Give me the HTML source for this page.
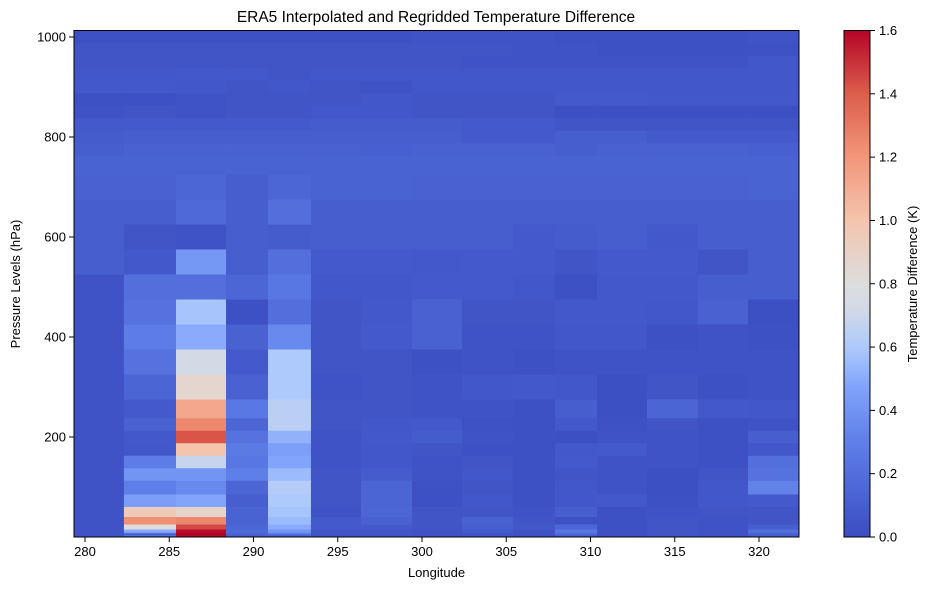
<!DOCTYPE html>
<html><head><meta charset="utf-8"><style>
body{margin:0;background:#fff;}
svg{display:block;font-family:"Liberation Sans","DejaVu Sans",sans-serif;}
</style></head><body>
<svg id="chart" width="930" height="590" viewBox="0 0 930 590" xmlns="http://www.w3.org/2000/svg">
<rect width="930" height="590" fill="#fff"/>
<text x="436" y="22" font-size="15.5" text-anchor="middle">ERA5 Interpolated and Regridded Temperature Difference</text>
<g id="cells"></g>
<g id="xaxis"></g>
<g id="yaxis"></g>
<rect x="74" y="30.5" width="725" height="506.5" fill="none" stroke="#000" stroke-width="1"/>
<text x="436.5" y="577" font-size="13" text-anchor="middle">Longitude</text>
<text transform="translate(20,284) rotate(-90)" font-size="13" text-anchor="middle">Pressure Levels (hPa)</text>
<defs><linearGradient id="cbgrad" x1="0" y1="1" x2="0" y2="0"></linearGradient></defs>
<rect x="844" y="30.5" width="26" height="506.5" fill="url(#cbgrad)" stroke="#000" stroke-width="1"/>
<g id="cbaxis"></g>
<text transform="translate(917,284) rotate(-90)" font-size="13" text-anchor="middle">Temperature Difference (K)</text>
</svg>
<script>
const lonEdges=[279.35,282.31,285.40,288.37,290.86,293.41,296.38,299.41,302.37,305.40,307.89,310.39,313.35,316.38,319.35,322.37];
const levels=[1000,975,950,925,900,875,850,825,800,775,750,700,650,600,550,500,450,400,350,300,250,225,200,175,150,125,100,70,50,30,20,10,7,5,3,2,1];
const values=[
[.03,.03,.03,.03,.03,.03,.03,.04,.04,.04,.03,.03,.03,.03,.04],
[.05,.05,.05,.05,.05,.05,.05,.05,.05,.04,.04,.03,.03,.03,.03],
[.05,.05,.05,.05,.05,.05,.05,.05,.04,.04,.04,.04,.04,.04,.06],
[.06,.06,.07,.07,.05,.06,.06,.06,.06,.06,.06,.06,.06,.06,.06],
[.07,.07,.06,.05,.06,.05,.04,.06,.06,.06,.06,.06,.06,.06,.06],
[.03,.03,.04,.05,.05,.05,.06,.05,.05,.05,.08,.08,.07,.07,.07],
[.04,.05,.04,.05,.05,.06,.06,.05,.05,.05,.02,.02,.02,.02,.02],
[.08,.08,.08,.08,.08,.09,.09,.09,.08,.08,.05,.05,.05,.05,.05],
[.09,.1,.1,.1,.1,.1,.1,.1,.08,.08,.1,.1,.08,.08,.08],
[.1,.12,.12,.12,.12,.12,.11,.12,.12,.12,.1,.12,.12,.12,.11],
[.13,.13,.13,.13,.13,.13,.13,.13,.13,.13,.13,.13,.13,.13,.13],
[.12,.12,.15,.1,.15,.13,.13,.12,.12,.12,.12,.12,.12,.12,.13],
[.1,.1,.17,.1,.2,.1,.1,.1,.1,.1,.1,.1,.1,.1,.1],
[.1,.05,.04,.1,.09,.1,.1,.1,.1,.08,.09,.1,.07,.1,.1],
[.1,.07,.42,.1,.2,.08,.08,.07,.08,.08,.05,.08,.08,.05,.1],
[.04,.2,.2,.15,.25,.06,.06,.08,.08,.06,.03,.07,.07,.1,.1],
[.04,.22,.58,.03,.2,.05,.07,.12,.05,.05,.07,.07,.06,.12,.02],
[.04,.28,.5,.12,.35,.05,.08,.12,.04,.04,.06,.06,.03,.04,.03],
[.04,.22,.72,.08,.6,.05,.05,.03,.04,.03,.04,.04,.04,.04,.04],
[.04,.14,.86,.12,.6,.04,.05,.04,.06,.07,.06,.02,.05,.03,.04],
[.04,.08,1.12,.26,.64,.05,.05,.04,.04,.03,.1,.02,.14,.07,.06],
[.04,.12,1.25,.15,.64,.05,.06,.07,.03,.03,.07,.03,.05,.03,.04],
[.04,.07,1.42,.22,.52,.04,.07,.09,.04,.03,.02,.04,.04,.03,.1],
[.04,.06,1.0,.27,.45,.04,.06,.05,.03,.03,.07,.08,.04,.03,.06],
[.04,.28,.68,.25,.48,.04,.06,.04,.05,.03,.08,.04,.04,.03,.2],
[.04,.4,.4,.3,.55,.05,.09,.04,.06,.03,.05,.04,.02,.05,.22],
[.04,.3,.35,.15,.62,.05,.14,.03,.05,.03,.06,.04,.02,.06,.32],
[.04,.45,.48,.1,.6,.05,.14,.03,.06,.03,.06,.07,.03,.06,.08],
[.04,.95,.88,.13,.58,.04,.15,.05,.05,.04,.1,.03,.04,.05,.05],
[.04,1.22,1.25,.13,.55,.08,.12,.05,.12,.05,.03,.03,.05,.04,.05],
[.04,.8,1.45,.15,.5,.08,.08,.05,.1,.07,.15,.03,.05,.04,.1],
[.04,.5,1.58,.17,.4,.05,.05,.04,.08,.04,.25,.03,.05,.04,.2],
[.04,.2,1.6,.15,.3,.05,.05,.04,.05,.04,.2,.03,.05,.04,.15],
[.04,.1,1.6,.12,.2,.05,.05,.04,.05,.04,.15,.03,.05,.04,.1],
[.04,.25,1.6,.12,.15,.05,.05,.04,.05,.04,.1,.03,.05,.04,.1],
[.04,.1,1.6,.1,.1,.05,.05,.04,.05,.04,.1,.03,.05,.04,.1],
[.04,.1,1.6,.1,.1,.05,.05,.04,.05,.04,.1,.03,.05,.04,.1]
];
const xTicks=[280,285,290,295,300,305,310,315,320];
const yTicks=[200,400,600,800,1000];
const cbTicks=[0,0.2,0.4,0.6,0.8,1.0,1.2,1.4,1.6];
const vmin=0,vmax=1.6;
const NS='http://www.w3.org/2000/svg';
function X(lon){return 85+(lon-280)*16.85;}
function Y(p){return 537-0.5*p;}
function CY(v){return 537-(v-vmin)/(vmax-vmin)*506.5;}
const anchors=[[0,59,76,192],[0.1,77,104,215],[0.2,98,130,234],[0.3,130,165,251],[0.37,172,200,252],[0.45,210,218,230],[0.5,221,221,221],[0.625,244,196,173],[0.75,242,150,122],[0.875,220,94,76],[1,180,4,38]];
function cmap(v){let t=Math.max(0,Math.min(1,(v-vmin)/(vmax-vmin)));
for(let i=1;i<anchors.length;i++){if(t<=anchors[i][0]){const a=anchors[i-1],b=anchors[i];const f=(t-a[0])/(b[0]-a[0]);
return 'rgb('+[1,2,3].map(k=>Math.round(a[k]+(b[k]-a[k])*f)).join(',')+')';}}return 'rgb(180,4,38)';}
function mk(tag,attrs,parent){const e=document.createElementNS(NS,tag);for(const k in attrs)e.setAttribute(k,attrs[k]);parent.appendChild(e);return e;}
const cells=document.getElementById('cells');
for(let r=0;r<levels.length;r++){
  const p=levels[r];
  const up=r===0?p+(p-levels[1])/2:(p+levels[r-1])/2;
  const lo=r===levels.length-1?Math.max(0,p-(levels[r-1]-p)/2):(p+levels[r+1])/2;
  for(let c=0;c<lonEdges.length-1;c++){
    const x0=X(lonEdges[c]),x1=X(lonEdges[c+1]);
    const y0=Math.max(30.5,Y(up)),y1=Y(lo);
    const el=mk('rect',{x:x0,y:y0,width:x1-x0+0.4,height:Math.max(0,y1-y0)+0.4,fill:cmap(values[r][c])},cells);
    
    
  }
}
const xa=document.getElementById('xaxis');
xTicks.forEach(t=>{const x=X(t);
  const l=mk('line',{x1:x,x2:x,y1:537,y2:542,stroke:'#000'},xa);
  
  
  const tx=mk('text',{x:x,y:556,'font-size':13,'text-anchor':'middle'},xa);tx.textContent=t;
  
  
});
const ya=document.getElementById('yaxis');
yTicks.forEach(t=>{const y=Y(t);
  const l=mk('line',{x1:69,x2:74,y1:y,y2:y,stroke:'#000'},ya);
  
  
  const tx=mk('text',{x:66,y:y+4.5,'font-size':13,'text-anchor':'end'},ya);tx.textContent=t;
  
  
});
const grad=document.getElementById('cbgrad');
for(let i=0;i<=40;i++){const v=vmin+(vmax-vmin)*i/40;mk('stop',{offset:(i/40),'stop-color':cmap(v)},grad);}
const cba=document.getElementById('cbaxis');
cbTicks.forEach(t=>{const y=CY(t);
  const l=mk('line',{x1:870,x2:875,y1:y,y2:y,stroke:'#000'},cba);
  
  
  const tx=mk('text',{x:879,y:y+4.5,'font-size':13},cba);tx.textContent=t.toFixed(1);
  
  
});
</script>
</body></html>
